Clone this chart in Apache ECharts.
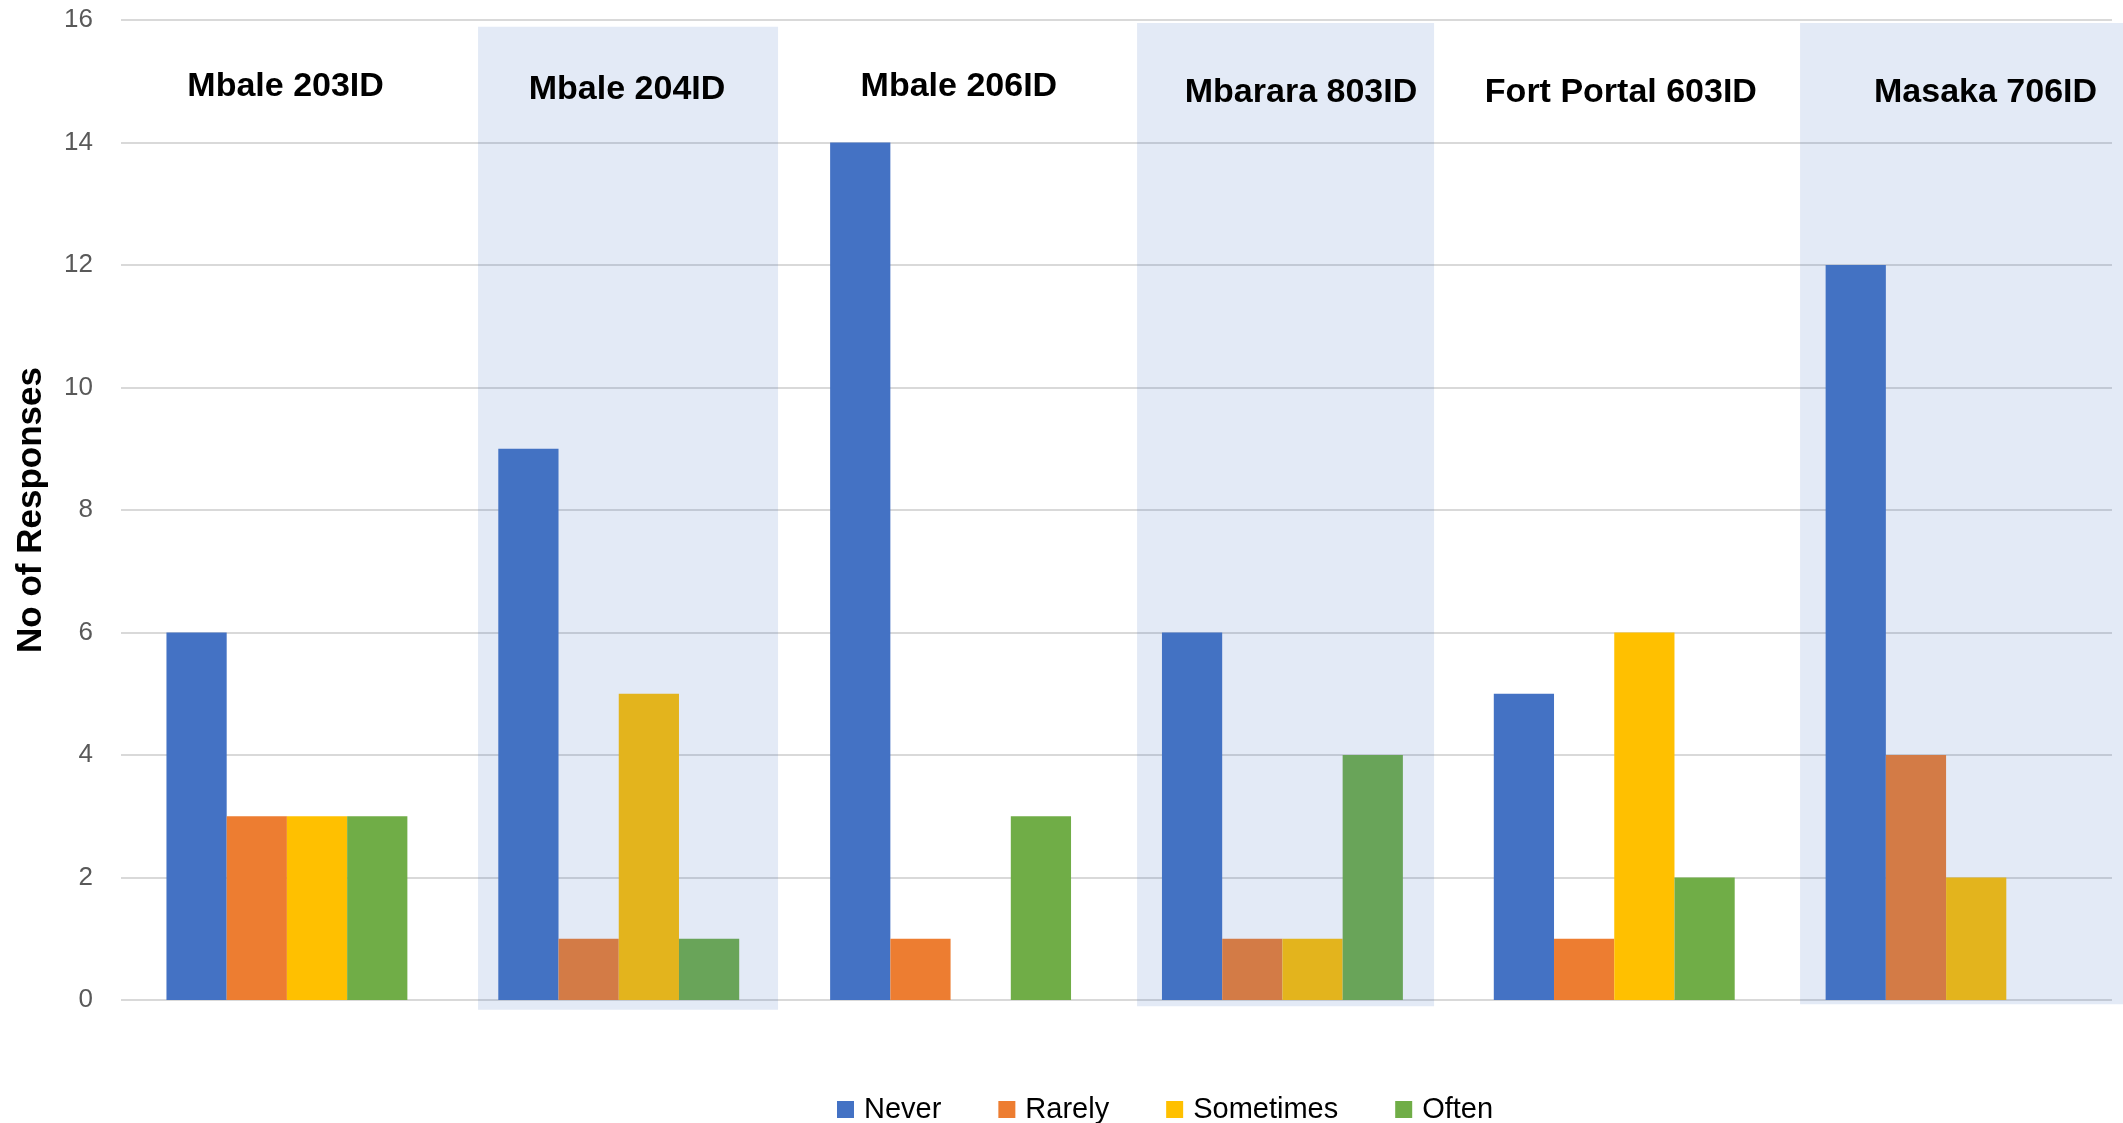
<!DOCTYPE html>
<html>
<head>
<meta charset="utf-8">
<title>Responses by site</title>
<script src="https://cdn.jsdelivr.net/npm/echarts@6/dist/echarts.min.js"></script>
<style>
  html, body { margin: 0; padding: 0; background: #fff; }
  #chart { width: 2123px; height: 1123px; }
</style>
</head>
<body>
<div id="chart"></div>
<script>
// sites (x categories) and the four answer series
var sites = ['Mbale 203ID', 'Mbale 204ID', 'Mbale 206ID', 'Mbarara 803ID', 'Fort Portal 603ID', 'Masaka 706ID'];
var never = [6, 9, 14, 6, 5, 12];
var rarely = [3, 1, 1, 1, 1, 4];
var sometimes = [3, 5, 0, 1, 6, 2];
var often = [3, 1, 3, 4, 2, 0];
var yTicks = [0, 2, 4, 6, 8, 10, 12, 14, 16];

// layout of the decorations, in axis units (x: 0..6 across the categories)
var bandExtents = [
    [1.076, 1.980, -0.16, 15.89],
    [3.062, 3.957, -0.10, 15.95],
    [5.060, 6.050, -0.07, 15.95]
];
var titleAnchors = [
    [0.496, 14.91], [1.525, 14.86], [2.525, 14.91],
    [3.556, 14.81], [4.520, 14.81], [5.619, 14.81]
];

var chart = echarts.init(document.getElementById('chart'));

function barSeries(name, values, color) {
    return {
        name: name,
        type: 'bar',
        data: values,
        barGap: '0%',
        barCategoryGap: '27.4%',
        itemStyle: { color: color },
        z: 2
    };
}

var option = {
    animation: false,
    textStyle: { fontFamily: 'Liberation Sans' },
    grid: { left: 121, right: 11, top: 20, bottom: 123 },
    legend: {
        data: ['Never', 'Rarely', 'Sometimes', 'Often'],
        left: 832,
        top: 1090,
        itemWidth: 17,
        itemHeight: 17,
        itemGap: 57,
        icon: 'rect',
        textStyle: { fontSize: 29, color: '#000', padding: [0, 0, 0, 5] }
    },
    xAxis: [
        {
            type: 'category',
            data: sites,
            axisLine: { show: false },
            axisTick: { show: false },
            axisLabel: { show: false }
        },
        {
            type: 'value',
            min: 0,
            max: 6,
            show: false
        }
    ],
    yAxis: {
        type: 'value',
        min: yTicks[0],
        max: yTicks[yTicks.length - 1],
        interval: 2,
        name: 'No of Responses',
        nameLocation: 'middle',
        nameRotate: 90,
        nameGap: 72,
        nameTextStyle: { fontSize: 35, fontWeight: 'bold', color: '#000' },
        axisLine: { show: false },
        axisTick: { show: false },
        axisLabel: { fontSize: 26, color: '#595959', margin: 28 },
        splitLine: { lineStyle: { color: '#D9D9D9', width: 2 } }
    },
    series: [
        barSeries('Never', never, '#4472C4'),
        barSeries('Rarely', rarely, '#ED7D31'),
        barSeries('Sometimes', sometimes, '#FFC000'),
        barSeries('Often', often, '#70AD47'),
        {
            // translucent highlight panels laid over alternate sites
            type: 'custom',
            xAxisIndex: 1,
            clip: false,
            silent: true,
            z: 3,
            data: bandExtents,
            renderItem: function (params, api) {
                var p0 = api.coord([api.value(0), api.value(3)]);
                var p1 = api.coord([api.value(1), api.value(2)]);
                return {
                    type: 'rect',
                    shape: { x: p0[0], y: p0[1], width: p1[0] - p0[0], height: p1[1] - p0[1] },
                    style: { fill: 'rgba(68,114,196,0.15)' }
                };
            }
        },
        {
            // site titles
            type: 'custom',
            xAxisIndex: 1,
            clip: false,
            silent: true,
            z: 4,
            data: titleAnchors,
            renderItem: function (params, api) {
                var p = api.coord([api.value(0), api.value(1)]);
                return {
                    type: 'text',
                    x: p[0],
                    y: p[1],
                    style: {
                        text: sites[params.dataIndex],
                        fontSize: 34,
                        fontWeight: 'bold',
                        fontFamily: 'Liberation Sans',
                        fill: '#000',
                        align: 'center',
                        verticalAlign: 'middle'
                    }
                };
            }
        }
    ]
};

chart.setOption(option);
</script>
</body>
</html>
